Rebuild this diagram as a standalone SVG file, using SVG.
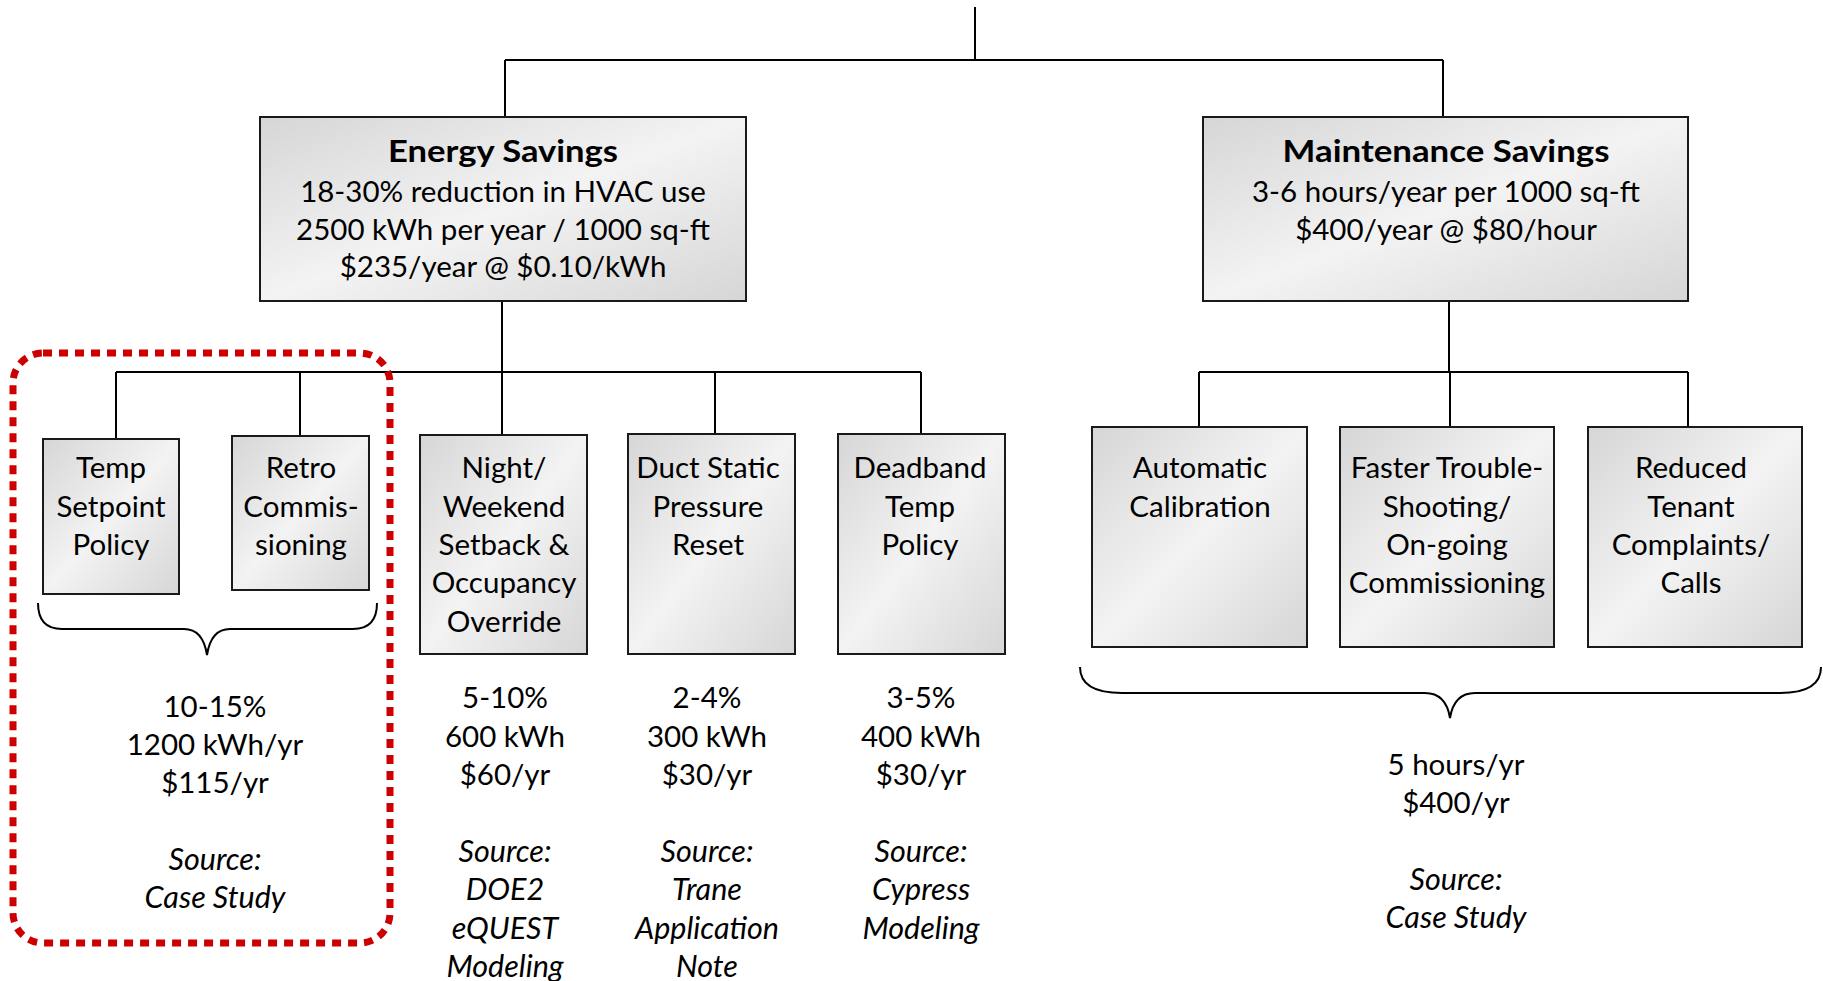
<svg xmlns="http://www.w3.org/2000/svg" width="1823" height="981" viewBox="0 0 1823 981">
<defs>
<linearGradient id="g" x1="0" y1="0" x2="1" y2="1">
<stop offset="0" stop-color="#d6d6d6"/>
<stop offset="0.5" stop-color="#f3f3f3"/>
<stop offset="1" stop-color="#d6d6d6"/>
</linearGradient>
<style>
.box{fill:url(#g);stroke:#1a1a1a;stroke-width:2}
.t{font-family:Lato,"Liberation Sans",sans-serif;font-size:29.5px;fill:#000;text-anchor:middle}
.b{font-weight:bold;font-size:31px}
.i{font-style:italic;font-size:30.5px}
.ln{fill:none;stroke:#000;stroke-width:2}
.red{fill:none;stroke:#cc0000;stroke-width:7;stroke-dasharray:9 7}
</style>
</defs>
<rect width="1823" height="981" fill="#fff"/>
<g id="connectors" class="ln">
<path d="M975,7V60M505,60H1443M505,60V117M1443,60V117"/>
<path d="M502,301V372M116,372H921M116,372V439M300,372V436M502,372V435M715,372V434M921,372V434"/>
<path d="M1449,301V372M1199,372H1688M1199,372V427M1450,372V427M1688,372V427"/>
<path d="M38,603Q38,629 62,629L184,629Q203,629 207,655Q211,629 230,629L353,629Q377,629 377,603"/>
<path d="M1080,667Q1080,693 1122,693L1425,693Q1446,693 1450,718Q1454,693 1475,693L1780,693Q1821,693 1821,667"/>
</g>
<g id="highlight">
<rect class="red" x="13" y="353" width="377" height="590" rx="30"/>
</g>
<g id="energy">
<rect class="box" x="260" y="117" width="486" height="184"/>
<text class="t b" x="503" y="162" textLength="230" lengthAdjust="spacingAndGlyphs">Energy Savings</text>
<text class="t" x="503" y="202">18-30% reduction in HVAC use</text>
<text class="t" x="503" y="240">2500 kWh per year / 1000 sq-ft</text>
<text class="t" x="503" y="277">$235/year @ $0.10/kWh</text>
</g>
<g id="maintenance">
<rect class="box" x="1203" y="117" width="485" height="184"/>
<text class="t b" x="1446" y="162" textLength="327" lengthAdjust="spacingAndGlyphs">Maintenance Savings</text>
<text class="t" x="1446" y="202">3-6 hours/year per 1000 sq-ft</text>
<text class="t" x="1446" y="240">$400/year @ $80/hour</text>
</g>
<g id="temp">
<rect class="box" x="43" y="439" width="136" height="155"/>
<text class="t" x="111" y="478">Temp</text>
<text class="t" x="111" y="517">Setpoint</text>
<text class="t" x="111" y="555">Policy</text>
</g>
<g id="retro">
<rect class="box" x="232" y="436" width="137" height="154"/>
<text class="t" x="301" y="478">Retro</text>
<text class="t" x="301" y="517">Commis-</text>
<text class="t" x="301" y="555">sioning</text>
</g>
<g id="night">
<rect class="box" x="420" y="435" width="167" height="219"/>
<text class="t" x="504" y="478">Night/</text>
<text class="t" x="504" y="517">Weekend</text>
<text class="t" x="504" y="555">Setback &amp;</text>
<text class="t" x="504" y="593">Occupancy</text>
<text class="t" x="504" y="632">Override</text>
</g>
<g id="duct">
<rect class="box" x="628" y="434" width="167" height="220"/>
<text class="t" x="708" y="478">Duct Static</text>
<text class="t" x="708" y="517">Pressure</text>
<text class="t" x="708" y="555">Reset</text>
</g>
<g id="deadband">
<rect class="box" x="838" y="434" width="167" height="220"/>
<text class="t" x="920" y="478">Deadband</text>
<text class="t" x="920" y="517">Temp</text>
<text class="t" x="920" y="555">Policy</text>
</g>
<g id="auto">
<rect class="box" x="1092" y="427" width="215" height="220"/>
<text class="t" x="1200" y="478">Automatic</text>
<text class="t" x="1200" y="517">Calibration</text>
</g>
<g id="faster">
<rect class="box" x="1340" y="427" width="214" height="220"/>
<text class="t" x="1447" y="478">Faster Trouble-</text>
<text class="t" x="1447" y="517">Shooting/</text>
<text class="t" x="1447" y="555">On-going</text>
<text class="t" x="1447" y="593">Commissioning</text>
</g>
<g id="reduced">
<rect class="box" x="1588" y="427" width="214" height="220"/>
<text class="t" x="1691" y="478">Reduced</text>
<text class="t" x="1691" y="517">Tenant</text>
<text class="t" x="1691" y="555">Complaints/</text>
<text class="t" x="1691" y="593">Calls</text>
</g>
<g id="results-left">
<text class="t" x="215" y="717">10-15%</text>
<text class="t" x="215" y="755">1200 kWh/yr</text>
<text class="t" x="215" y="793">$115/yr</text>
<text class="t i" x="215" y="870">Source:</text>
<text class="t i" x="215" y="908">Case Study</text>
</g>
<g id="results-night">
<text class="t" x="505" y="708">5-10%</text>
<text class="t" x="505" y="747">600 kWh</text>
<text class="t" x="505" y="785">$60/yr</text>
<text class="t i" x="505" y="862">Source:</text>
<text class="t i" x="505" y="900">DOE2</text>
<text class="t i" x="505" y="939">eQUEST</text>
<text class="t i" x="505" y="977">Modeling</text>
</g>
<g id="results-duct">
<text class="t" x="707" y="708">2-4%</text>
<text class="t" x="707" y="747">300 kWh</text>
<text class="t" x="707" y="785">$30/yr</text>
<text class="t i" x="707" y="862">Source:</text>
<text class="t i" x="707" y="900">Trane</text>
<text class="t i" x="707" y="939">Application</text>
<text class="t i" x="707" y="977">Note</text>
</g>
<g id="results-deadband">
<text class="t" x="921" y="708">3-5%</text>
<text class="t" x="921" y="747">400 kWh</text>
<text class="t" x="921" y="785">$30/yr</text>
<text class="t i" x="921" y="862">Source:</text>
<text class="t i" x="921" y="900">Cypress</text>
<text class="t i" x="921" y="939">Modeling</text>
</g>
<g id="results-maintenance">
<text class="t" x="1456" y="775">5 hours/yr</text>
<text class="t" x="1456" y="813">$400/yr</text>
<text class="t i" x="1456" y="890">Source:</text>
<text class="t i" x="1456" y="928">Case Study</text>
</g>
</svg>
